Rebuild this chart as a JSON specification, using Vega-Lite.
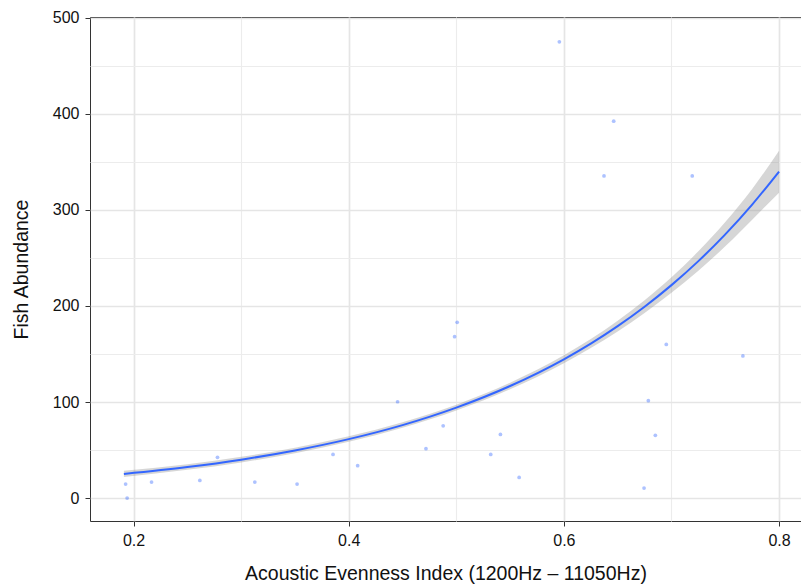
{
  "$schema": "https://vega.github.io/schema/vega-lite/v6.json",
  "autosize": {"type": "none"},
  "padding": {"left": 90, "top": 17, "right": 0, "bottom": 63},
  "width": 711,
  "height": 504,
  "background": "white",
  "config": {
    "font": "Liberation Sans",
    "view": {"stroke": "#333333", "strokeWidth": 1},
    "axis": {
      "labelFont": "Liberation Sans",
      "titleFont": "Liberation Sans",
      "labelFontSize": 16,
      "titleFontSize": 19.5,
      "labelColor": "#111111",
      "titleColor": "#111111",
      "titleFontWeight": "normal",
      "domain": false,
      "tickSize": 5,
      "tickWidth": 1
    }
  },
  "datasets": {
    "pts": [
      {"aei": 0.1926, "fish": 14.6},
      {"aei": 0.194, "fish": 0},
      {"aei": 0.2167, "fish": 16.7},
      {"aei": 0.2616, "fish": 18.4},
      {"aei": 0.278, "fish": 42.4},
      {"aei": 0.3127, "fish": 16.7},
      {"aei": 0.352, "fish": 14.6},
      {"aei": 0.3854, "fish": 45.5},
      {"aei": 0.4083, "fish": 33.7},
      {"aei": 0.4454, "fish": 100.3},
      {"aei": 0.4718, "fish": 51.4},
      {"aei": 0.4878, "fish": 75.3},
      {"aei": 0.4984, "fish": 168},
      {"aei": 0.5008, "fish": 183},
      {"aei": 0.532, "fish": 45.5},
      {"aei": 0.541, "fish": 66.3},
      {"aei": 0.5584, "fish": 21.5},
      {"aei": 0.5958, "fish": 475},
      {"aei": 0.6373, "fish": 335.4},
      {"aei": 0.6463, "fish": 392.4},
      {"aei": 0.6745, "fish": 10.4},
      {"aei": 0.6785, "fish": 101.4},
      {"aei": 0.685, "fish": 65.3},
      {"aei": 0.6952, "fish": 160},
      {"aei": 0.7193, "fish": 335.4},
      {"aei": 0.7664, "fish": 148}
    ],
    "fit": [
      {"aei": 0.191, "fit": 25.1, "lo": 22.0, "hi": 28.4},
      {"aei": 0.25, "fit": 32.3, "lo": 29.4, "hi": 35.3},
      {"aei": 0.3, "fit": 40.0, "lo": 37.1, "hi": 43.0},
      {"aei": 0.35, "fit": 49.6, "lo": 46.8, "hi": 52.5},
      {"aei": 0.4, "fit": 61.4, "lo": 58.6, "hi": 64.3},
      {"aei": 0.45, "fit": 76.0, "lo": 73.2, "hi": 78.9},
      {"aei": 0.5, "fit": 94.2, "lo": 91.2, "hi": 97.3},
      {"aei": 0.55, "fit": 116.7, "lo": 113.4, "hi": 120.1},
      {"aei": 0.6, "fit": 144.5, "lo": 140.5, "hi": 148.6},
      {"aei": 0.625, "fit": 160.8, "lo": 156.2, "hi": 165.5},
      {"aei": 0.65, "fit": 179.0, "lo": 173.5, "hi": 184.6},
      {"aei": 0.675, "fit": 199.2, "lo": 192.6, "hi": 206.0},
      {"aei": 0.7, "fit": 221.7, "lo": 213.7, "hi": 229.9},
      {"aei": 0.725, "fit": 246.7, "lo": 236.8, "hi": 256.9},
      {"aei": 0.75, "fit": 274.6, "lo": 262.1, "hi": 287.4},
      {"aei": 0.775, "fit": 305.6, "lo": 289.8, "hi": 321.9},
      {"aei": 0.8, "fit": 340.0, "lo": 318.0, "hi": 361.5}
    ]
  },
  "layer": [
    {
      "data": {"name": "fit"},
      "mark": {"type": "area", "color": "#999999", "opacity": 0.4, "interpolate": "monotone"},
      "encoding": {
        "x": {
          "field": "aei", "type": "quantitative",
          "scale": {"domain": [0.1595, 0.8204], "nice": false, "zero": false},
          "axis": {
            "title": "Acoustic Evenness Index (1200Hz – 11050Hz)",
            "values": [0.2, 0.3, 0.4, 0.5, 0.6, 0.7, 0.8],
            "format": ".1f",
            "labelExpr": "indexof([0.2, 0.4, 0.6, 0.8], datum.value) >= 0 ? datum.label : ''",
            "labelPadding": 6,
            "titlePadding": 16,
            "grid": true,
            "gridColor": {"condition": {"test": "indexof([0.2, 0.4, 0.6, 0.8], datum.value) >= 0", "value": "#e5e5e5"}, "value": "#ececec"},
            "gridWidth": {"condition": {"test": "indexof([0.2, 0.4, 0.6, 0.8], datum.value) >= 0", "value": 1.7}, "value": 1.1},
            "tickColor": {"condition": {"test": "indexof([0.2, 0.4, 0.6, 0.8], datum.value) >= 0", "value": "#333333"}, "value": "transparent"}
          }
        },
        "y": {
          "field": "lo", "type": "quantitative",
          "scale": {"domain": [-23.85, 500.85], "nice": false, "zero": false},
          "axis": {
            "title": "Fish Abundance",
            "values": [0, 50, 100, 150, 200, 250, 300, 350, 400, 450, 500],
            "labelExpr": "datum.value % 100 === 0 ? datum.label : ''",
            "labelPadding": 6,
            "titlePadding": 21,
            "grid": true,
            "gridColor": {"condition": {"test": "datum.value % 100 === 0", "value": "#e5e5e5"}, "value": "#ececec"},
            "gridWidth": {"condition": {"test": "datum.value % 100 === 0", "value": 1.7}, "value": 1.1},
            "tickColor": {"condition": {"test": "datum.value % 100 === 0", "value": "#333333"}, "value": "transparent"}
          }
        },
        "y2": {"field": "hi"}
      }
    },
    {
      "data": {"name": "pts"},
      "mark": {"type": "circle", "color": "#3366ff", "opacity": 0.4, "size": 14},
      "encoding": {
        "x": {"field": "aei", "type": "quantitative"},
        "y": {"field": "fish", "type": "quantitative"}
      }
    },
    {
      "data": {"name": "fit"},
      "mark": {"type": "line", "color": "#3366ff", "strokeWidth": 2, "interpolate": "monotone"},
      "encoding": {
        "x": {"field": "aei", "type": "quantitative"},
        "y": {"field": "fit", "type": "quantitative"}
      }
    }
  ]
}
